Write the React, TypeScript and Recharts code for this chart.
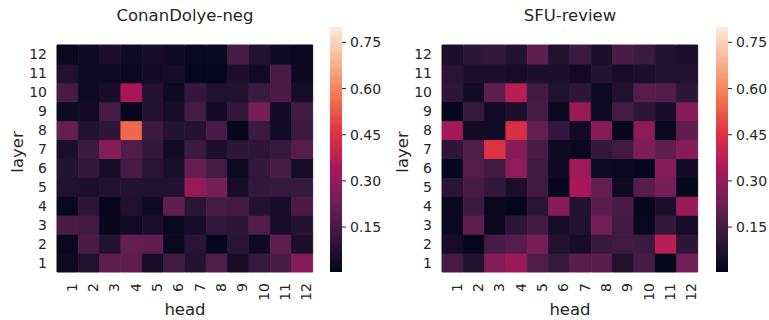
import React from 'react';
import { BarChart, Bar, Cell, XAxis, YAxis } from 'recharts';

const heads = ['1', '2', '3', '4', '5', '6', '7', '8', '9', '10', '11', '12'];
const layers = [1, 2, 3, 4, 5, 6, 7, 8, 9, 10, 11, 12];
const colorbarTicks = [0.15, 0.3, 0.45, 0.6, 0.75];
const vmin = 0.004;
const vmax = 0.8;

// rows as drawn, top to bottom: layer 12 first, layer 1 last; columns head 1..12
const conanDolyeNeg = [
  [0.02, 0.03, 0.06, 0.03, 0.05, 0.03, 0.02, 0.02, 0.15, 0.08, 0.03, 0.02],
  [0.07, 0.03, 0.03, 0.02, 0.04, 0.05, 0.01, 0.01, 0.06, 0.04, 0.16, 0.02],
  [0.15, 0.03, 0.05, 0.34, 0.08, 0.03, 0.11, 0.07, 0.07, 0.13, 0.16, 0.05],
  [0.03, 0.04, 0.15, 0.01, 0.08, 0.05, 0.15, 0.04, 0.11, 0.24, 0.04, 0.14],
  [0.21, 0.08, 0.10, 0.55, 0.13, 0.08, 0.08, 0.15, 0.01, 0.13, 0.04, 0.13],
  [0.06, 0.13, 0.27, 0.17, 0.11, 0.04, 0.13, 0.06, 0.10, 0.10, 0.12, 0.18],
  [0.08, 0.11, 0.05, 0.15, 0.09, 0.06, 0.21, 0.15, 0.03, 0.11, 0.15, 0.05],
  [0.07, 0.06, 0.08, 0.08, 0.07, 0.07, 0.30, 0.24, 0.05, 0.11, 0.12, 0.12],
  [0.02, 0.10, 0.01, 0.07, 0.03, 0.20, 0.09, 0.15, 0.14, 0.08, 0.05, 0.16],
  [0.16, 0.14, 0.01, 0.04, 0.06, 0.02, 0.05, 0.11, 0.10, 0.17, 0.05, 0.08],
  [0.02, 0.16, 0.08, 0.21, 0.20, 0.02, 0.09, 0.01, 0.09, 0.03, 0.20, 0.06],
  [0.03, 0.07, 0.20, 0.20, 0.05, 0.14, 0.08, 0.17, 0.05, 0.12, 0.15, 0.27],
];

const sfuReview = [
  [0.06, 0.10, 0.11, 0.08, 0.20, 0.07, 0.13, 0.06, 0.16, 0.13, 0.07, 0.06],
  [0.09, 0.06, 0.06, 0.05, 0.06, 0.06, 0.04, 0.08, 0.05, 0.06, 0.07, 0.07],
  [0.10, 0.04, 0.20, 0.37, 0.14, 0.07, 0.10, 0.03, 0.07, 0.18, 0.17, 0.10],
  [0.01, 0.12, 0.04, 0.06, 0.15, 0.02, 0.31, 0.03, 0.15, 0.10, 0.05, 0.27],
  [0.33, 0.04, 0.04, 0.44, 0.21, 0.11, 0.04, 0.27, 0.01, 0.28, 0.02, 0.20],
  [0.10, 0.17, 0.45, 0.27, 0.16, 0.03, 0.02, 0.11, 0.14, 0.26, 0.20, 0.27],
  [0.01, 0.18, 0.14, 0.29, 0.14, 0.03, 0.32, 0.03, 0.02, 0.01, 0.27, 0.04],
  [0.09, 0.15, 0.11, 0.06, 0.14, 0.01, 0.34, 0.21, 0.03, 0.18, 0.24, 0.01],
  [0.02, 0.13, 0.02, 0.01, 0.09, 0.27, 0.08, 0.19, 0.16, 0.01, 0.06, 0.31],
  [0.02, 0.20, 0.02, 0.10, 0.14, 0.05, 0.07, 0.23, 0.14, 0.02, 0.11, 0.05],
  [0.05, 0.01, 0.15, 0.18, 0.24, 0.07, 0.05, 0.12, 0.14, 0.13, 0.37, 0.10],
  [0.15, 0.08, 0.27, 0.31, 0.17, 0.12, 0.19, 0.19, 0.07, 0.15, 0.01, 0.23],
];

// seaborn "rocket" colormap, sampled
const rocket: [number, string][] = [
  [0, '#03051a'],
  [1 / 7, '#35193e'],
  [2 / 7, '#701f57'],
  [3 / 7, '#ad1759'],
  [4 / 7, '#e13342'],
  [5 / 7, '#f37651'],
  [6 / 7, '#f6b48f'],
  [1, '#faebdd'],
];

const FONT = 'DejaVu Sans, sans-serif';
const TEXT = '#262626';

function hexToRgb(h: string) {
  return [1, 3, 5].map((i) => parseInt(h.slice(i, i + 2), 16));
}

function cellColor(v: number) {
  const t = Math.max(0, Math.min(1, (v - vmin) / (vmax - vmin)));
  for (let i = 1; i < rocket.length; i++) {
    if (t <= rocket[i][0]) {
      const [t0, c0] = rocket[i - 1];
      const [t1, c1] = rocket[i];
      const f = (t - t0) / (t1 - t0);
      const a = hexToRgb(c0);
      const b = hexToRgb(c1);
      const rgb = a.map((x, k) => Math.round(x + (b[k] - x) * f));
      return `rgb(${rgb[0]},${rgb[1]},${rgb[2]})`;
    }
  }
  return rocket[rocket.length - 1][1];
}

const HeadTick = (props: any) => {
  const { x, y, payload } = props;
  return (
    <text
      x={x + 4}
      y={y}
      transform={`rotate(-90, ${x + 4}, ${y})`}
      textAnchor="end"
      dominantBaseline="central"
      fontFamily={FONT}
      fontSize={14}
      fill={TEXT}
    >
      {payload.value}
    </text>
  );
};

function Heatmap({ values, left }: { values: number[][]; left: number }) {
  const data = heads.map((h) => {
    const row: any = { head: h };
    layers.forEach((l) => {
      row[`L${l}`] = 1;
    });
    return row;
  });

  return (
    <div style={{ position: 'absolute', left, top: 0 }}>
      <BarChart
        width={320}
        height={320}
        data={data}
        margin={{ top: 45, right: 7, bottom: 18, left: 7 }}
        barCategoryGap={0}
        barGap={0}
      >
        <XAxis
          dataKey="head"
          axisLine={false}
          tickLine={false}
          tickSize={0}
          tickMargin={11}
          height={30}
          interval={0}
          tick={<HeadTick />}
        />
        <YAxis
          type="number"
          domain={[0, 12]}
          ticks={layers.map((l) => l - 0.5)}
          tickFormatter={(v: number) => String(v + 0.5)}
          interval={0}
          axisLine={false}
          tickLine={false}
          tickSize={0}
          tickMargin={10}
          width={50}
          tick={{ fontFamily: FONT, fontSize: 14, fill: TEXT }}
        />
        {layers.map((l) => (
          <Bar key={l} dataKey={`L${l}`} stackId="cells" isAnimationActive={false}>
            {heads.map((h, hi) => {
              const c = cellColor(values[12 - l][hi]);
              return <Cell key={h} fill={c} stroke={c} strokeWidth={1} />;
            })}
          </Bar>
        ))}
      </BarChart>
    </div>
  );
}

function Colorbar({ left, id }: { left: number; id: string }) {
  const cb = [{ name: 'cb', range: [vmin, vmax] }];
  return (
    <div style={{ position: 'absolute', left, top: 0 }}>
      <BarChart
        width={57}
        height={290}
        data={cb}
        margin={{ top: 27, right: 0, bottom: 18, left: 0 }}
        barCategoryGap={0}
      >
        <defs>
          <linearGradient id={id} x1="0" y1="1" x2="0" y2="0">
            {rocket.map(([t, c]) => (
              <stop key={t} offset={t} stopColor={c} />
            ))}
          </linearGradient>
        </defs>
        <XAxis dataKey="name" hide />
        <YAxis
          orientation="right"
          type="number"
          domain={[vmin, vmax]}
          ticks={colorbarTicks}
          tickFormatter={(v: number) => v.toFixed(2)}
          interval={0}
          axisLine={false}
          tickSize={4}
          tickMargin={4}
          width={45}
          stroke={TEXT}
          tick={{ fontFamily: FONT, fontSize: 14, fill: TEXT }}
        />
        <Bar dataKey="range" fill={`url(#${id})`} isAnimationActive={false} />
      </BarChart>
    </div>
  );
}

export default function App() {
  return (
    <div style={{ position: 'absolute', left: 0, top: 0, width: 769, height: 320, background: '#fff' }}>
      <Heatmap values={conanDolyeNeg} left={0} />
      <Heatmap values={sfuReview} left={385} />
      <Colorbar left={330} id="rocketA" />
      <Colorbar left={716} id="rocketB" />
      <svg
        width={769}
        height={320}
        style={{ position: 'absolute', left: 0, top: 0, pointerEvents: 'none' }}
        fontFamily={FONT}
        fill={TEXT}
      >
        <text x={185} y={21} textAnchor="middle" fontSize={16.5}>ConanDolye-neg</text>
        <text x={570} y={21} textAnchor="middle" fontSize={16.5}>SFU-review</text>
        <text x={185} y={315} textAnchor="middle" fontSize={16.5}>head</text>
        <text x={570} y={315} textAnchor="middle" fontSize={16.5}>head</text>
        <text x={23} y={152} textAnchor="middle" fontSize={16.5} transform="rotate(-90, 23, 152)">layer</text>
        <text x={408} y={152} textAnchor="middle" fontSize={16.5} transform="rotate(-90, 408, 152)">layer</text>
      </svg>
    </div>
  );
}
